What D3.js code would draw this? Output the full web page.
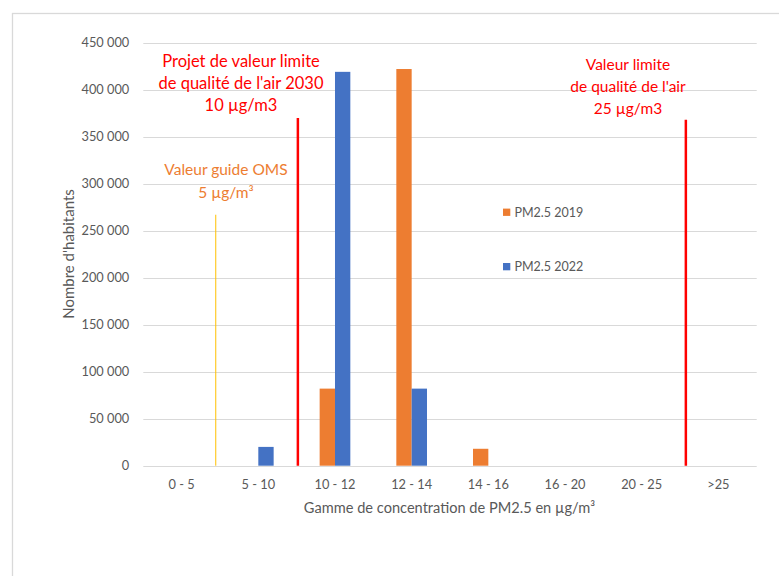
<!DOCTYPE html>
<html lang="fr">
<head>
<meta charset="UTF-8">
<title>PM2.5 - Nombre d'habitants</title>
<style>
  html, body { margin: 0; padding: 0; background: #fff; }
  svg { display: block; font-family: Lato, "Open Sans", sans-serif; }
</style>
</head>
<body>
<svg id="chart" width="779" height="576"></svg>
<script src="https://cdn.jsdelivr.net/npm/d3@7"></script>
<script>
// categories and series
var categories = ["0 - 5", "5 - 10", "10 - 12", "12 - 14", "14 - 16", "16 - 20", "20 - 25", ">25"];
var seriesNames = ["PM2.5 2019", "PM2.5 2022"];
var pm2019 = [0, 0, 82000, 422000, 18000, 0, 0, 0];
var pm2022 = [0, 20000, 419000, 82000, 0, 0, 0, 0];
var yTicks = [0, 50000, 100000, 150000, 200000, 250000, 300000, 350000, 400000, 450000];

// reference lines: position in category units, top value
var refNames = ["oms", "limite2030", "limite"];
var refPos = [0.945, 2.016, 7.076];
var refTop = [267000, 370000, 368000];

var colors = { "PM2.5 2019": "#ED7D31", "PM2.5 2022": "#4472C4" };

var svg = d3.select("#chart");
var plotL = 143.3, plotR = 756.7, plotT = 42.7, plotB = 465.7;

// outer chart border
svg.append("rect")
    .attr("x", 12.5).attr("y", 13.5)
    .attr("width", 800).attr("height", 620)
    .attr("fill", "none")
    .attr("stroke", "#d9d9d9")
    .attr("stroke-width", 1.3);

var x = d3.scaleBand().domain(categories).range([plotL, plotR]).padding(0);
var x1 = d3.scaleBand().domain(seriesNames).range([0, x.bandwidth()]).paddingInner(0).paddingOuter(1.5);
var xi = d3.scaleLinear().domain([0, categories.length]).range([plotL, plotR]);
var y = d3.scaleLinear().domain([0, 450000]).range([plotB, plotT]);

var fr = d3.formatLocale({ decimal: ",", thousands: " ", grouping: [3], currency: ["", " €"] });
var fmt = fr.format(",d");

// gridlines
svg.append("g")
    .selectAll("line")
    .data(yTicks)
    .join("line")
    .attr("x1", plotL).attr("x2", plotR)
    .attr("y1", d => Math.round(y(d)) + 0.5)
    .attr("y2", d => Math.round(y(d)) + 0.5)
    .attr("stroke", "#d9d9d9")
    .attr("stroke-width", 1.2);

// y axis labels
var yAxis = svg.append("g")
    .attr("transform", `translate(${plotL},0)`)
    .call(d3.axisLeft(y).tickValues(yTicks).tickFormat(fmt).tickSize(0).tickPadding(14));
yAxis.select(".domain").remove();
yAxis.selectAll("text")
    .attr("fill", "#595959")
    .style("font-size", "12.8px")
    .style("font-family", "Lato, sans-serif");

// x axis labels
var xAxis = svg.append("g")
    .attr("transform", `translate(0,${plotB})`)
    .call(d3.axisBottom(x).tickSize(0).tickPadding(14));
xAxis.select(".domain").remove();
xAxis.selectAll("text")
    .attr("fill", "#595959")
    .style("font-size", "12.8px")
    .style("font-family", "Lato, sans-serif");

// bars
var rows = categories.map((c, i) => ({ cat: c, values: [pm2019[i], pm2022[i]] }));
svg.append("g")
    .selectAll("g")
    .data(rows)
    .join("g")
    .attr("transform", d => `translate(${x(d.cat)},0)`)
    .selectAll("rect")
    .data(d => d.values.map((v, j) => ({ name: seriesNames[j], value: v })))
    .join("rect")
    .filter(d => d.value > 0)
    .attr("x", d => x1(d.name))
    .attr("width", x1.bandwidth())
    .attr("y", d => y(d.value))
    .attr("height", d => y(0) - y(d.value))
    .attr("fill", d => colors[d.name]);

// reference lines
var refColor = ["#FFC000", "#FF0000", "#FF0000"];
var refWidth = [1, 2.5, 2.5];
svg.append("g")
    .selectAll("line")
    .data(refNames)
    .join("line")
    .attr("x1", (d, i) => xi(refPos[i]))
    .attr("x2", (d, i) => xi(refPos[i]))
    .attr("y1", (d, i) => y(refTop[i]))
    .attr("y2", plotB)
    .attr("stroke", (d, i) => refColor[i])
    .attr("stroke-width", (d, i) => refWidth[i]);

// annotations
function note(lines, cx, cy, color, size, lh) {
    var t = svg.append("text")
        .attr("text-anchor", "middle")
        .attr("fill", color)
        .style("font-size", size + "px");
    lines.forEach((l, i) => {
        t.append("tspan")
            .attr("x", cx)
            .attr("y", cy + i * lh)
            .attr("dy", "0.35em")
            .text(l);
    });
}
note(["Projet de valeur limite", "de qualité de l'air 2030", "10 µg/m3"], 241, 61.7, "#FF0000", 16.5, 21.7);
note(["Valeur guide OMS", "5 µg/m³"], 226, 170, "#ED7D31", 15.5, 22.3);
note(["Valeur limite", "de qualité de l'air", "25 µg/m3"], 628, 64.3, "#FF0000", 15.5, 22);

// legend
var legend = svg.append("g")
    .selectAll("g")
    .data(seriesNames)
    .join("g")
    .attr("transform", (d, i) => `translate(503,${212.3 + i * 54.4})`);
legend.append("rect")
    .attr("x", 0).attr("y", -3.7)
    .attr("width", 7.3).attr("height", 7.3)
    .attr("fill", d => colors[d]);
legend.append("text")
    .attr("x", 11.5)
    .attr("dy", "0.35em")
    .attr("fill", "#595959")
    .style("font-size", "12.5px")
    .text(d => d);

// axis titles
svg.append("text")
    .attr("transform", "translate(68.5,254) rotate(-90)")
    .attr("text-anchor", "middle")
    .attr("dy", "0.35em")
    .attr("fill", "#595959")
    .style("font-size", "15px")
    .text("Nombre d'habitants");

svg.append("text")
    .attr("x", 449.5)
    .attr("y", 508.3)
    .attr("text-anchor", "middle")
    .attr("dy", "0.35em")
    .attr("fill", "#595959")
    .style("font-size", "14.6px")
    .text("Gamme de concentration de PM2.5 en µg/m³");
</script>
</body>
</html>
